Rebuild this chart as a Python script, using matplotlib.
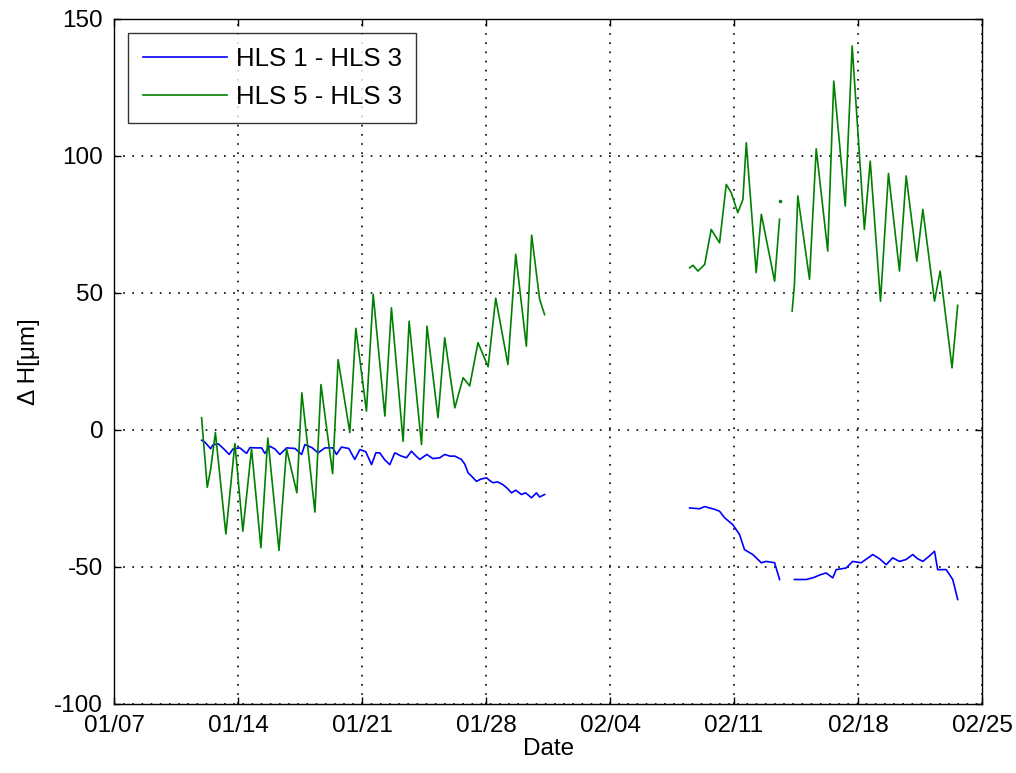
import numpy as np
import pandas as pd
import matplotlib
matplotlib.use("Agg")
import matplotlib.pyplot as plt
import matplotlib.dates as mdates

plt.rcParams['font.family'] = ['Liberation Sans', 'DejaVu Sans']
plt.rcParams['axes.unicode_minus'] = False

start = pd.Timestamp("2014-01-07")
nan = np.nan

# HLS 5 - HLS 3 (days after 01/07, value in um); NaN = gap in record
green_days = [4.93, 5.25, 5.44, 5.71, 6.30, 6.81, 7.26, 7.75, 8.28, 8.67,
              9.30, 9.73, 10.31, 10.59, 11.33, 11.67, 12.33, 12.64, 13.30, 13.64,
              14.24, 14.62, 15.28, 15.65, 16.31, 16.65, 17.35, 17.66, 18.28, 18.66,
              19.23, 19.70, 20.07, 20.54, 21.11, 21.54, 22.23, 22.67, 23.27, 23.57,
              24.02, 24.30, 28.0,
              32.49, 32.68, 32.96, 33.34, 33.71, 34.18, 34.56, 34.84, 35.21, 35.50,
              35.69, 36.25, 36.54, 37.29, 37.57, 37.9,
              38.28, 38.41, 38.60, 39.26, 39.64, 40.29, 40.63, 41.28, 41.67, 42.36,
              42.69, 43.27, 43.72, 44.34, 44.72, 45.32, 45.66, 46.32, 46.64, 47.31,
              47.63]
green_vals = [4.4, -21, -14.5, -1, -38, -5, -37, -7, -43, -3,
              -44, -7, -23, 13.5, -30, 16.5, -16, 25.6, -1, 37,
              6.8, 49.4, 5, 44.5, -4.2, 39.6, -5.4, 37.8, 4.4, 33.6,
              8, 19, 16, 31.8, 23, 48, 23.8, 64, 30.5, 71,
              47.6, 42, nan,
              59.1, 60, 57.9, 60.3, 73.1, 68.2, 89.5, 86.5, 79.2, 84,
              104.7, 57.3, 78.6, 54.2, 76.8, nan,
              43.3, 53, 85.3, 54.9, 102.5, 65.2, 127.2, 81.6, 140, 73.1,
              98, 46.9, 93.5, 57.9, 92.6, 61.5, 80.4, 46.9, 57.9, 22.6,
              45.4]
# isolated sample
green_dot_day = [37.57]
green_dot_val = [83.4]

# HLS 1 - HLS 3
blue_days = [4.93, 5.12, 5.44, 5.57, 5.87, 6.19, 6.49, 6.70, 7.09, 7.47,
             7.66, 8.04, 8.32, 8.50, 8.79, 9.07, 9.35, 9.73, 10.20, 10.58,
             10.76, 11.16, 11.51, 11.89, 12.34, 12.55, 12.83, 13.24, 13.58, 13.87,
             14.20, 14.53, 14.77, 14.99, 15.28, 15.56, 15.84, 16.18, 16.50, 16.78,
             17.03, 17.25, 17.65, 17.99, 18.38, 18.66, 18.95, 19.23, 19.60, 19.79,
             19.98, 20.19, 20.45, 20.69, 21.02, 21.20, 21.39, 21.65, 21.95, 22.22,
             22.43, 22.67, 22.99, 23.23, 23.56, 23.84, 24.02, 24.30, 28.0,
             32.49, 33.05, 33.34, 33.62, 33.90, 34.18, 34.47, 34.93, 35.31, 35.59,
             36.06, 36.54, 36.82, 37.29, 37.57, 37.9,
             38.41, 39.07, 39.45, 39.82, 40.20, 40.57, 40.77, 41.33, 41.70, 42.18,
             42.83, 43.21, 43.59, 43.96, 44.34, 44.72, 45.09, 45.36, 45.66, 46.04,
             46.32, 46.50, 46.98, 47.35, 47.63]
blue_vals = [-3.8, -4.5, -6.9, -5.5, -5.1, -7, -9, -7, -6.6, -8.6,
             -6.5, -6.6, -6.6, -8.6, -6.0, -7, -9, -6.6, -6.8, -9,
             -5.4, -6.5, -8.4, -6.6, -6.6, -9, -6.3, -6.8, -10.8, -7.2,
             -8, -12.7, -8.4, -8.4, -11, -12.7, -8.4, -9.5, -10.2, -7.8,
             -9.5, -10.8, -9, -10.5, -10.2, -9, -9.6, -9.6, -10.8, -12.5,
             -15.7, -17, -18.8, -18, -17.5, -18.5, -19.3, -19, -20, -21.5,
             -23, -22, -23.6, -23, -24.8, -23, -24.5, -23.6, nan,
             -28.5, -28.8, -28, -28.5, -29, -29.7, -32.1, -34.6, -38.2, -43.7,
             -45.5, -48.5, -48, -48.5, -54.6, nan,
             -54.6, -54.6, -54, -53, -52.2, -54, -51, -50.4, -48, -48.5,
             -45.5, -47, -49.2, -46.7, -48, -47.3, -45.5, -47, -48, -46,
             -44.3, -51, -51, -54.6, -61.9]

yticks = [-100, -50, 0, 50, 100, 150]
xtick_days = [0, 7, 14, 21, 28, 35, 42, 49]


def to_dates(days):
    return start + pd.to_timedelta(np.array(days), unit="D")


fig = plt.figure(figsize=(10.16, 7.73), dpi=100)
ax = fig.add_axes([0.1125, 0.0893, 0.854, 0.8867])

ax.plot(to_dates(blue_days), blue_vals, color=(0, 0, 1), lw=1.2, label="HLS 1 - HLS 3")
ax.plot(to_dates(green_days), green_vals, color=(0, 0.5, 0), lw=1.2, label="HLS 5 - HLS 3")
ax.plot(to_dates(green_dot_day), green_dot_val, ".", color=(0, 0.5, 0), ms=3)

xt = to_dates(xtick_days)
ax.set_xlim(xt[0], xt[-1])
ax.set_xticks(xt)
ax.xaxis.set_major_formatter(mdates.DateFormatter("%m/%d"))
ax.set_ylim(-100, 150)
ax.set_yticks(yticks)

ax.grid(True, color="black", linestyle=(0, (1, 4.5)), linewidth=1.2)
ax.tick_params(direction="in", top=True, right=True, length=5, width=1,
               labelsize=17.5, pad=8)
for s in ax.spines.values():
    s.set_linewidth(1)

ax.set_xlabel("Date", fontsize=17.5, labelpad=1)
ax.set_ylabel("Δ H[μm]", fontsize=17.5, labelpad=10)

leg = ax.legend(loc="upper left", fontsize=18.5, frameon=True, fancybox=False,
                edgecolor="black", borderaxespad=0.55, handlelength=3.3,
                handletextpad=0.35, borderpad=0.55, labelspacing=0.55)
leg.get_frame().set_linewidth(1)

fig.savefig("out.png", dpi=100)
